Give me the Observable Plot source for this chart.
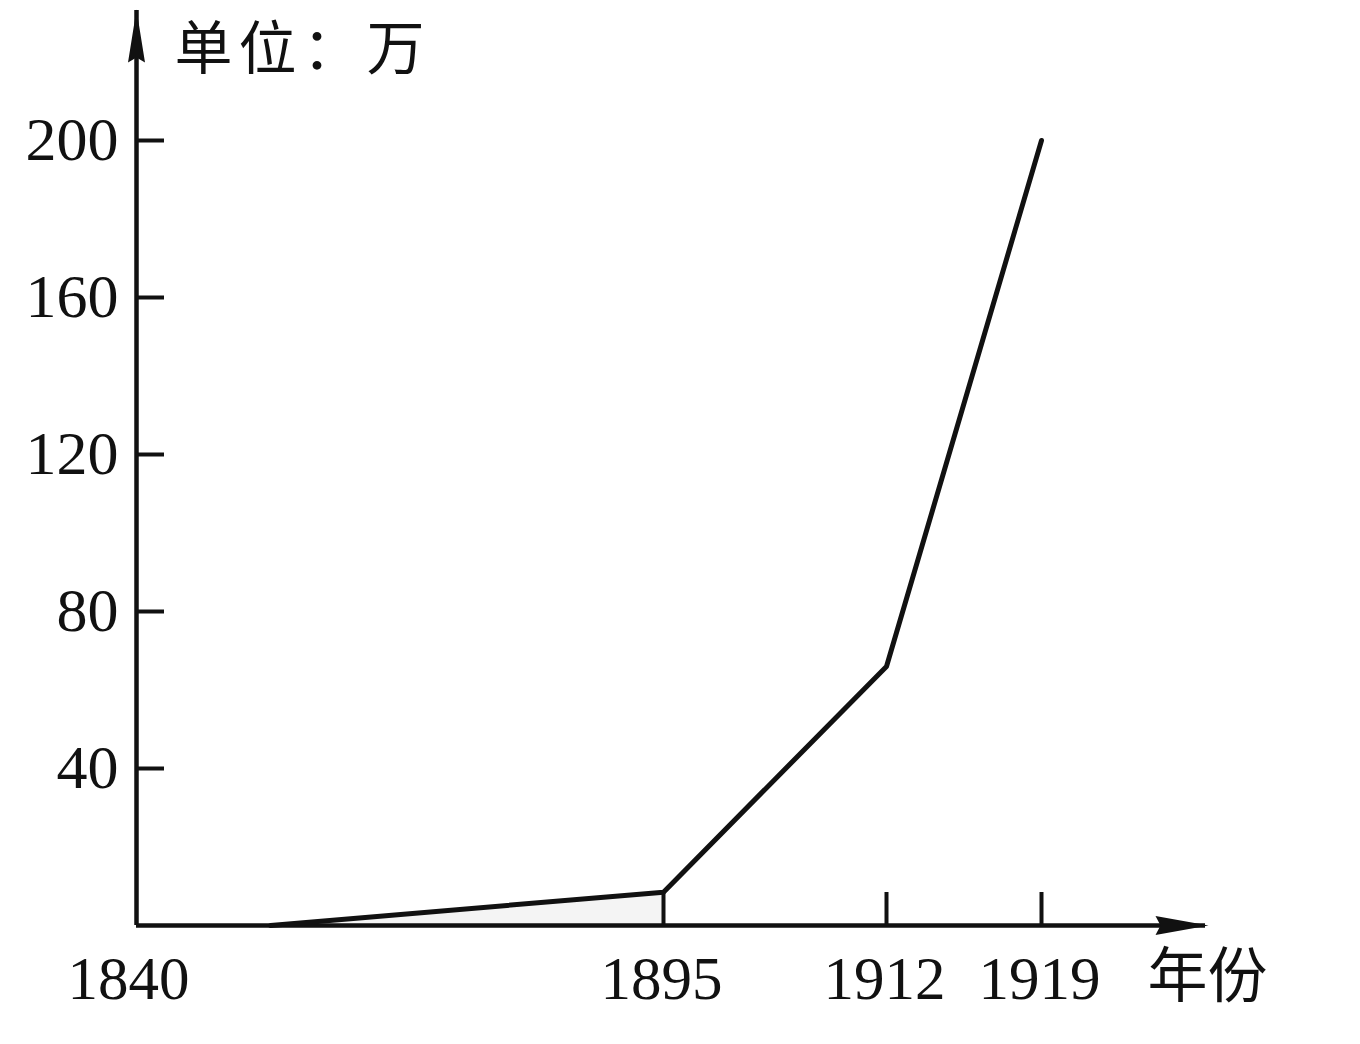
<!DOCTYPE html>
<html>
<head>
<meta charset="utf-8">
<script src="https://cdn.jsdelivr.net/npm/d3@7"></script>
<script src="https://cdn.jsdelivr.net/npm/@observablehq/plot@0.6"></script>
<style>
  html, body { margin: 0; padding: 0; background: #fff; }
  .unit-y text, text.unit-y { letter-spacing: 6px; }
</style>
</head>
<body>
<div id="chart"></div>
<script>
// ---- data ----
const years = [1854, 1895, 1912, 1919];
const workers = [0, 8.5, 66, 200];          // 单位：万
const xTickYears = [1840, 1895, 1912, 1919];
const xMarkedYears = [1895, 1912, 1919];
const yTicks = [40, 80, 120, 160, 200];
const yUnit = "单位：万";
const xUnit = "年份";

const data = years.map((year, i) => ({year, value: workers[i]}));
const early = data.filter(d => d.year <= 1895);

// filled arrowheads for the axes
const arrowUp = {
  draw(ctx) {
    ctx.moveTo(0, -1);
    ctx.lineTo(8.5, 52);
    ctx.lineTo(0, 47);
    ctx.lineTo(-8.5, 52);
    ctx.closePath();
  }
};
const arrowRight = {
  draw(ctx) {
    ctx.moveTo(3, 0);
    ctx.lineTo(-50, -9.5);
    ctx.lineTo(-45, 0);
    ctx.lineTo(-50, 9.5);
    ctx.closePath();
  }
};

const numFont = "'Liberation Serif', 'DejaVu Serif', serif";
const cjkFont = "'Noto Sans CJK SC', 'Noto Sans', sans-serif";

const chart = Plot.plot({
  width: 1360,
  height: 1044,
  marginLeft: 136,
  marginRight: 155,
  marginTop: 10,
  marginBottom: 119,
  style: {background: "#fff", fontFamily: numFont, color: "#111", overflow: "visible"},
  x: {type: "linear", domain: xTickYears, range: [136, 663, 886, 1041], label: null},
  y: {domain: [0, 200], range: [925, 140], label: null},
  marks: [
    // faint fill under the early segment
    Plot.areaY(early, {x: "year", y: "value", fill: "#f4f4f4"}),
    // axes lines
    Plot.ruleX([xTickYears[0]], {stroke: "#111", strokeWidth: 4.5}),
    Plot.ruleY([0], {stroke: "#111", strokeWidth: 4.5}),
    Plot.dot([0], {frameAnchor: "top-left", symbol: arrowUp, r: 10, fill: "#111", stroke: "none"}),
    Plot.dot([0], {frameAnchor: "bottom-right", symbol: arrowRight, r: 10, fill: "#111", stroke: "none"}),
    // y axis: inward ticks and labels
    Plot.axisY(yTicks, {
      anchor: "left", tickSize: -28, tickPadding: 46, strokeWidth: 4, stroke: "#111",
      fontSize: 62, fontFamily: numFont, fill: "#111", label: null
    }),
    // x axis: upward ticks at marked years
    Plot.axisX(xMarkedYears, {
      anchor: "bottom", tickSize: -33, tickPadding: 0, strokeWidth: 4, stroke: "#111",
      tickFormat: () => "", label: null
    }),
    // x axis labels
    Plot.axisX(xTickYears.slice(0, 1), {
      anchor: "bottom", tickSize: 0, tickPadding: 30, dx: -8, tickFormat: d => String(d),
      fontSize: 61, fontFamily: numFont, fill: "#111", label: null
    }),
    Plot.axisX(xTickYears.slice(1), {
      anchor: "bottom", tickSize: 0, tickPadding: 30, dx: -2, tickFormat: d => String(d),
      fontSize: 61, fontFamily: numFont, fill: "#111", label: null
    }),
    // data line
    Plot.line(data, {x: "year", y: "value", stroke: "#111", strokeWidth: 5,
      strokeLinejoin: "round", strokeLinecap: "round"}),
    // unit labels
    Plot.text([yUnit], {frameAnchor: "top-left", dx: 38, dy: 40, textAnchor: "start",
      lineAnchor: "middle", fontSize: 58, fontFamily: cjkFont, fill: "#111",
      className: "unit-y"}),
    Plot.text([xUnit], {frameAnchor: "bottom-right", dx: 2, dy: 52, textAnchor: "middle",
      lineAnchor: "middle", fontSize: 60, fontFamily: cjkFont, fill: "#111"})
  ]
});

document.getElementById("chart").appendChild(chart);
</script>
</body>
</html>
